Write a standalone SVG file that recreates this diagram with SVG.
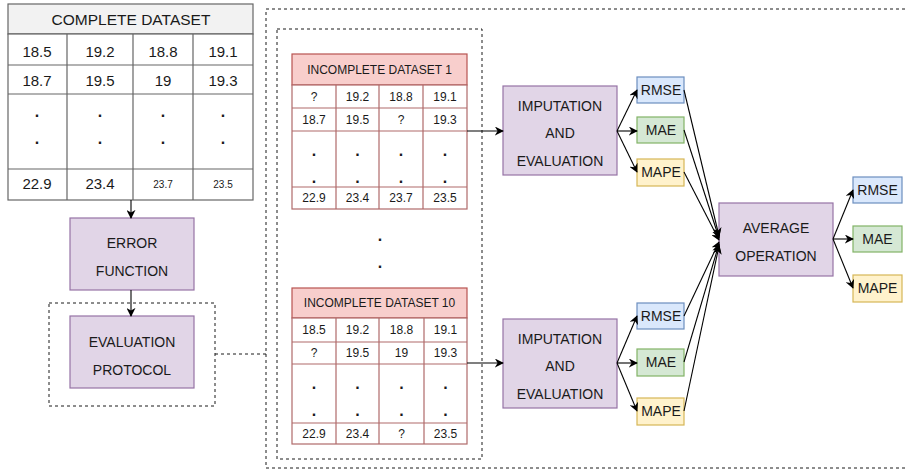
<svg xmlns="http://www.w3.org/2000/svg" width="905" height="470" viewBox="0 0 905 470">
  <style>
    text { font-family: "Liberation Sans", Arial, sans-serif; fill: #1a1a1a; text-anchor: middle; }
    .proc { fill: #e1d5e7; stroke: #9673a6; stroke-width: 1.2; }
    .grid { fill: #ffffff; stroke: #666666; stroke-width: 1.2; }
    .gridhead { fill: #f2f2f2; stroke: #666666; stroke-width: 1.2; }
    .rgrid { fill: #ffffff; stroke: #b06a6a; stroke-width: 1.2; }
    .rhead { fill: #f8cecc; stroke: #b85450; stroke-width: 1.2; }
    .blue { fill: #dae8fc; stroke: #6c8ebf; stroke-width: 1.2; }
    .green { fill: #d5e8d4; stroke: #82b366; stroke-width: 1.2; }
    .yellow { fill: #fff2cc; stroke: #d6b656; stroke-width: 1.2; }
    .dash { fill: none; stroke: #1a1a1a; stroke-width: 1; stroke-dasharray: 3 3; }
    .edge { fill: none; stroke: #000000; stroke-width: 1.1; marker-end: url(#arrow); }
    .t15 { font-size: 15px; }
    .t14 { font-size: 14px; }
    .t12 { font-size: 12px; }
    .t10 { font-size: 10px; }
    .dot { font-size: 16px; font-weight: bold; }
  </style>
  <defs>
    <marker id="arrow" viewBox="0 0 10 10" refX="9" refY="5" markerWidth="9" markerHeight="9" markerUnits="userSpaceOnUse" orient="auto">
      <path d="M0,0 L10,5 L0,10 L3,5 z" fill="#000000"/>
    </marker>
  </defs>

  <!-- dashed frames -->
  <g id="frames">
    <path class="dash" d="M905,9 H266 V468 H905"/>
    <rect class="dash" x="277" y="29" width="205" height="430"/>
    <rect class="dash" x="49" y="303" width="166" height="103"/>
  </g>

  <!-- complete dataset table -->
  <g id="complete-dataset">
    <rect class="gridhead" x="8" y="4" width="245" height="30"/>
    <rect class="grid" x="8" y="34" width="245" height="166"/>
    <path class="grid" d="M8,65 H253 M8,94 H253 M8,169 H253 M67,34 V200 M133,34 V200 M193,34 V200"/>
    <text x="131" y="25" style="font-size:15.5px" fill="#333333">COMPLETE DATASET</text>
    <g class="t15">
      <text x="37" y="57">18.5</text><text x="100" y="57">19.2</text><text x="163" y="57">18.8</text><text x="223" y="57">19.1</text>
      <text x="37" y="86">18.7</text><text x="100" y="86">19.5</text><text x="163" y="86">19</text><text x="223" y="86">19.3</text>
      <text x="37" y="189">22.9</text><text x="100" y="189">23.4</text>
    </g>
    <g class="dot">
      <text x="37" y="117">.</text><text x="100" y="117">.</text><text x="163" y="117">.</text><text x="223" y="117">.</text>
      <text x="37" y="144">.</text><text x="100" y="144">.</text><text x="163" y="144">.</text><text x="223" y="144">.</text>
    </g>
    <text class="t10" x="163" y="188">23.7</text>
    <text class="t10" x="223" y="188">23.5</text>
  </g>

  <g id="error-function">
    <rect class="proc" x="70" y="218" width="124" height="72"/>
    <text class="t14" x="132" y="248">ERROR</text>
    <text class="t14" x="132" y="276">FUNCTION</text>
  </g>

  <g id="evaluation-protocol">
    <rect class="proc" x="70" y="316" width="124" height="72"/>
    <text class="t14" x="132" y="347">EVALUATION</text>
    <text class="t14" x="132" y="375">PROTOCOL</text>
  </g>

  <!-- incomplete dataset 1 -->
  <g id="incomplete-1">
    <rect class="rhead" x="292" y="54" width="175" height="31"/>
    <rect class="rgrid" x="292" y="85" width="175" height="124"/>
    <path class="rgrid" d="M292,108 H467 M292,131 H467 M292,187 H467 M336,85 V209 M379,85 V209 M423,85 V209"/>
    <text class="t12" x="379.5" y="74">INCOMPLETE DATASET 1</text>
    <g class="t12">
      <text x="314" y="101">?</text><text x="357.5" y="101">19.2</text><text x="401" y="101">18.8</text><text x="445" y="101">19.1</text>
      <text x="314" y="124">18.7</text><text x="357.5" y="124">19.5</text><text x="401" y="124">?</text><text x="445" y="124">19.3</text>
      <text x="314" y="202">22.9</text><text x="357.5" y="202">23.4</text><text x="401" y="202">23.7</text><text x="445" y="202">23.5</text>
    </g>
    <g class="dot">
      <text x="314" y="156">.</text><text x="357.5" y="156">.</text><text x="401" y="156">.</text><text x="445" y="156">.</text>
      <text x="314" y="183">.</text><text x="357.5" y="183">.</text><text x="401" y="183">.</text><text x="445" y="183">.</text>
    </g>
  </g>

  <g id="ellipsis" class="dot">
    <text x="380" y="241">.</text>
    <text x="380" y="268">.</text>
  </g>

  <!-- incomplete dataset 10 -->
  <g id="incomplete-10">
    <rect class="rhead" x="292" y="288" width="175" height="30"/>
    <rect class="rgrid" x="292" y="318" width="175" height="126"/>
    <path class="rgrid" d="M292,342 H467 M292,364 H467 M292,423 H467 M336,318 V444 M379,318 V444 M424,318 V444"/>
    <text class="t12" x="379.5" y="307">INCOMPLETE DATASET 10</text>
    <g class="t12">
      <text x="314" y="334">18.5</text><text x="357.5" y="334">19.2</text><text x="401.5" y="334">18.8</text><text x="445.5" y="334">19.1</text>
      <text x="314" y="357">?</text><text x="357.5" y="357">19.5</text><text x="401.5" y="357">19</text><text x="445.5" y="357">19.3</text>
      <text x="314" y="438">22.9</text><text x="357.5" y="438">23.4</text><text x="401.5" y="438">?</text><text x="445.5" y="438">23.5</text>
    </g>
    <g class="dot">
      <text x="314" y="389">.</text><text x="357.5" y="389">.</text><text x="401.5" y="389">.</text><text x="445.5" y="389">.</text>
      <text x="314" y="416">.</text><text x="357.5" y="416">.</text><text x="401.5" y="416">.</text><text x="445.5" y="416">.</text>
    </g>
  </g>

  <g id="imputation-1">
    <rect class="proc" x="503" y="86" width="114" height="89"/>
    <text class="t14" x="560" y="111">IMPUTATION</text>
    <text class="t14" x="560" y="138">AND</text>
    <text class="t14" x="560" y="166">EVALUATION</text>
  </g>

  <g id="imputation-10">
    <rect class="proc" x="503" y="319" width="114" height="89"/>
    <text class="t14" x="560" y="344">IMPUTATION</text>
    <text class="t14" x="560" y="371">AND</text>
    <text class="t14" x="560" y="399">EVALUATION</text>
  </g>

  <!-- metrics for dataset 1 -->
  <g id="rmse-1"><rect class="blue" x="637" y="77" width="47" height="26"/><text class="t14" x="661" y="95">RMSE</text></g>
  <g id="mae-1"><rect class="green" x="637" y="117" width="47" height="26"/><text class="t14" x="661" y="135">MAE</text></g>
  <g id="mape-1"><rect class="yellow" x="637" y="159" width="47" height="27"/><text class="t14" x="661" y="177">MAPE</text></g>

  <!-- metrics for dataset 10 -->
  <g id="rmse-10"><rect class="blue" x="637" y="303" width="47" height="26"/><text class="t14" x="661" y="321">RMSE</text></g>
  <g id="mae-10"><rect class="green" x="637" y="349" width="47" height="27"/><text class="t14" x="661" y="367">MAE</text></g>
  <g id="mape-10"><rect class="yellow" x="637" y="398" width="47" height="27"/><text class="t14" x="661" y="416">MAPE</text></g>

  <g id="average">
    <rect class="proc" x="719" y="203" width="114" height="73"/>
    <text class="t14" x="776" y="233">AVERAGE</text>
    <text class="t14" x="776" y="261">OPERATION</text>
  </g>

  <!-- averaged metrics -->
  <g id="rmse-avg"><rect class="blue" x="853" y="177" width="49" height="26"/><text class="t14" x="877.5" y="195">RMSE</text></g>
  <g id="mae-avg"><rect class="green" x="853" y="226" width="49" height="26"/><text class="t14" x="877.5" y="244">MAE</text></g>
  <g id="mape-avg"><rect class="yellow" x="853" y="275" width="49" height="27"/><text class="t14" x="877.5" y="293">MAPE</text></g>

  <!-- connectors -->
  <g id="connectors">
    <path class="edge" d="M131,200 V218"/>
    <path class="edge" d="M131,290 V316"/>
    <path class="dash" d="M215,354 H266"/>
    <path class="edge" d="M467,131 H503"/>
    <path class="edge" d="M467,363 H503"/>
    <path class="edge" d="M617,131 L637,90"/>
    <path class="edge" d="M617,131 H637"/>
    <path class="edge" d="M617,131 L637,172"/>
    <path class="edge" d="M617,363 L637,316"/>
    <path class="edge" d="M617,363 H637"/>
    <path class="edge" d="M617,363 L637,411"/>
    <path class="edge" d="M684,90 L719,236"/>
    <path class="edge" d="M684,130 L719,238"/>
    <path class="edge" d="M684,172 L719,240"/>
    <path class="edge" d="M684,316 L719,242"/>
    <path class="edge" d="M684,362 L719,244"/>
    <path class="edge" d="M684,411 L719,246"/>
    <path class="edge" d="M833,239 L853,190"/>
    <path class="edge" d="M833,239 H853"/>
    <path class="edge" d="M833,239 L853,288"/>
  </g>
</svg>
